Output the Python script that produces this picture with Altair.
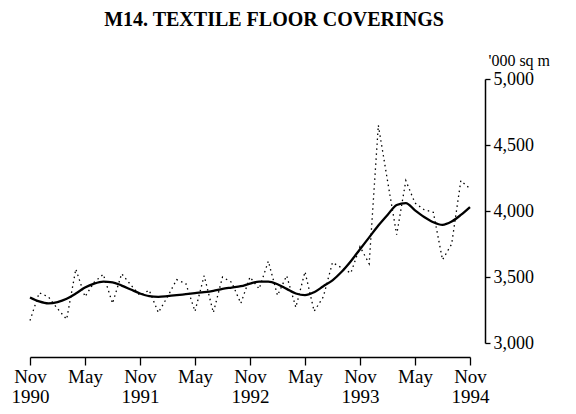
import altair as alt
import pandas as pd

# Monthly observations, Nov 1990 .. Nov 1994 (month index 0..48)
month_index = list(range(49))

original = [3170, 3380, 3350, 3260, 3180, 3560, 3350, 3460, 3520, 3300,
            3525, 3440, 3360, 3400, 3230, 3350, 3480, 3450, 3240, 3510,
            3230, 3500, 3460, 3300, 3500, 3410, 3620, 3360, 3510, 3270,
            3540, 3240, 3350, 3610, 3570, 3530, 3730, 3600, 4650, 4230,
            3820, 4230, 4060, 4010, 3990, 3630, 3750, 4230, 4170]

trend = [3345, 3315, 3300, 3310, 3335, 3375, 3420, 3450, 3465, 3460,
         3435, 3405, 3375, 3355, 3350, 3355, 3362, 3370, 3378, 3385,
         3395, 3410, 3420, 3430, 3450, 3465, 3465, 3445, 3410, 3375,
         3362, 3385, 3430, 3475, 3540, 3620, 3710, 3800, 3890, 3970,
         4045, 4060, 4005, 3955, 3915, 3895, 3920, 3970, 4030]

x_ticks = [0, 6, 12, 18, 24, 30, 36, 42, 48]
y_ticks = [3000, 3500, 4000, 4500, 5000]

df = pd.DataFrame({"t": month_index, "original": original, "trend": trend})

FONT = "Liberation Serif"

x_enc = alt.X(
    "t:Q",
    scale=alt.Scale(domain=[0, 48], nice=False, zero=False),
    axis=alt.Axis(
        values=x_ticks,
        labelExpr="datum.value % 12 == 0 ? ['Nov', '' + (1990 + datum.value / 12)] : ['May', '']",
        labelOverlap=False,
        labelBound=False,
        labelFlush=False,
        labelAlign="center",
        title=None,
        grid=False,
        offset=14,
        tickSize=8,
        labelPadding=2,
        labelFontSize=19,
        labelLineHeight=20,
        labelFont=FONT,
        labelColor="black",
        domainColor="black",
        tickColor="black",
        domainWidth=1.3,
        tickWidth=1.3,
    ),
)

y_scale = alt.Scale(domain=[3000, 5000], nice=False, zero=False)

y_axis = alt.Axis(
    orient="right",
    values=y_ticks,
    format=",.0f",
    labelOverlap=False,
    labelFlush=False,
    grid=False,
    offset=15,
    tickSize=5,
    labelPadding=3,
    labelFontSize=18,
    labelFont=FONT,
    labelColor="black",
    domainColor="black",
    tickColor="black",
    domainWidth=1.5,
    tickWidth=1.3,
    title="'000 sq m",
    titleAngle=0,
    titleAlign="left",
    titleBaseline="alphabetic",
    titleX=3,
    titleY=-14,
    titleFont=FONT,
    titleFontSize=16,
    titleFontWeight="normal",
    titleColor="black",
)

orig_line = alt.Chart(df).mark_line(
    color="black", strokeWidth=1.3, strokeDash=[1.5, 3.5]
).encode(
    x=x_enc,
    y=alt.Y("original:Q", scale=y_scale, axis=y_axis),
)

trend_line = alt.Chart(df).mark_line(
    color="black", strokeWidth=2.3, interpolate="monotone"
).encode(
    x=x_enc,
    y=alt.Y("trend:Q", scale=y_scale),
)

chart = alt.layer(orig_line, trend_line).properties(
    width=440,
    height=264,
    background="white",
    autosize=alt.AutoSizeParams(type="none"),
    padding={"left": 22, "top": 71, "right": 80, "bottom": 70},
    title=alt.TitleParams(
        "M14. TEXTILE FLOOR COVERINGS",
        font=FONT,
        fontSize=20,
        fontWeight="bold",
        color="black",
        anchor="middle",
        dx=24,
        offset=22,
    ),
).configure_view(stroke=None)

chart.save("out.html", embed_options={"renderer": "svg", "actions": False})
